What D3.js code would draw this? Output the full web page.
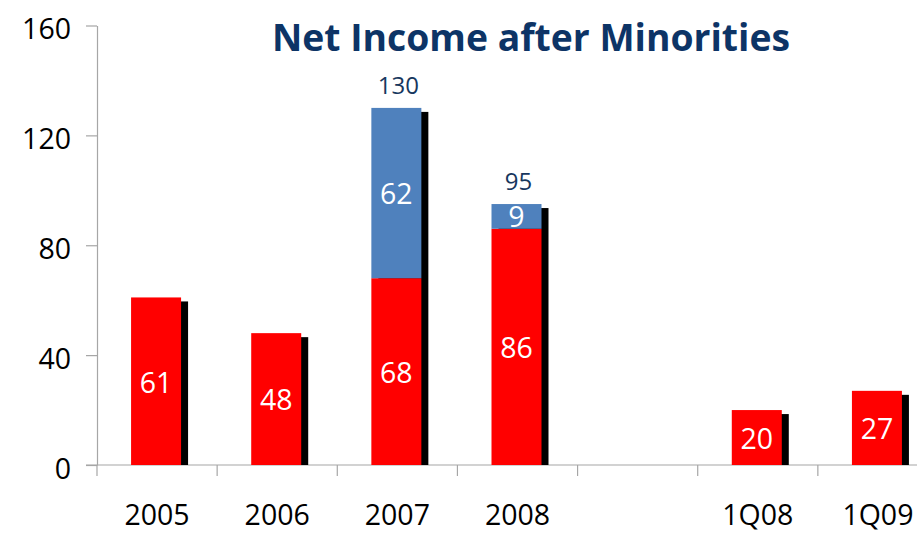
<!DOCTYPE html>
<html>
<head>
<meta charset="utf-8">
<script src="https://cdn.jsdelivr.net/npm/d3@7"></script>
<style>
    body { margin: 0; background: #fff; }
    #chart-area { width: 917px; height: 534px; overflow: hidden; }
    text { font-family: "Open Sans", sans-serif; }
</style>
</head>
<body>
<div id="chart-area"></div>
<script>

// chart data
let categories = ["2005", "2006", "2007", "2008", "", "1Q08", "1Q09"];
let baseValues = [61, 48, 68, 86, null, 20, 27];
let extraValues = [0, 0, 62, 9, null, 0, 0];
let yTicks = [0, 40, 80, 120, 160];
let chartTitle = "Net Income after Minorities";


class StackedBars {

    constructor(parentElement) {
        this.parentElement = parentElement;
        this.barWidth = 50;
        this.initVis();
    }

    /*
     * svg area, scales, axes
     */
    initVis() {
        let vis = this;

        vis.width = 917;
        vis.height = 534;

        vis.svg = d3.select("#" + vis.parentElement)
            .append("svg")
            .attr("width", vis.width)
            .attr("height", vis.height);

        // plot runs past the right edge of the picture
        vis.x = d3.scaleBand()
            .domain(categories.map((c, i) => i))
            .range([97, 938])
            .padding(0);

        vis.y = d3.scaleLinear()
            .domain([0, 160])
            .range([465, 25.5]);

        vis.wrangleData();
    }

    wrangleData() {
        let vis = this;

        vis.displayData = [];
        categories.forEach(function (c, i) {
            if (baseValues[i] == null) return;
            vis.displayData.push({
                idx: i,
                name: c,
                base: baseValues[i],
                extra: extraValues[i],
                total: baseValues[i] + extraValues[i]
            });
        });

        vis.updateVis();
    }

    updateVis() {
        let vis = this;
        let bw = vis.barWidth;
        let cx = d => vis.x(d.idx) + vis.x.bandwidth() / 2 - 1;

        // y axis
        let yAxis = d3.axisLeft(vis.y)
            .tickValues(yTicks)
            .tickSize(11)
            .tickPadding(15)
            .tickSizeOuter(0);

        let yG = vis.svg.append("g")
            .attr("class", "y-axis")
            .attr("transform", "translate(97,0)")
            .call(yAxis);
        yG.select(".domain").attr("stroke", "#a6a6a6").attr("stroke-width", 1.2);
        yG.selectAll(".tick line").attr("stroke", "#a6a6a6").attr("stroke-width", 1.2);
        yG.selectAll(".tick text")
            .attr("dy", "0.47em")
            .attr("fill", "#000")
            .style("font-size", "28.5px");

        // x axis with ticks between categories
        let xAxis = d3.axisBottom(vis.x)
            .tickSize(0)
            .tickPadding(40)
            .tickFormat(i => categories[i]);

        let xG = vis.svg.append("g")
            .attr("class", "x-axis")
            .attr("transform", "translate(0,465)")
            .call(xAxis);
        xG.select(".domain").remove();
        xG.selectAll(".tick text")
            .attr("fill", "#000")
            .attr("dy", "0.71em")
            .style("font-size", "28.5px");

        xG.append("line")
            .attr("x1", 86).attr("x2", 938)
            .attr("stroke", "#a6a6a6").attr("stroke-width", 1.2);

        xG.selectAll("line.sep")
            .data(categories.map((c, i) => i))
            .enter()
            .append("line")
            .attr("class", "sep")
            .attr("x1", i => vis.x(i))
            .attr("x2", i => vis.x(i))
            .attr("y1", 0)
            .attr("y2", 11)
            .attr("stroke", "#a6a6a6")
            .attr("stroke-width", 1.2);

        // shadows
        vis.svg.append("g").selectAll("rect")
            .data(vis.displayData)
            .enter()
            .append("rect")
            .attr("x", d => cx(d) - bw / 2 + 7)
            .attr("y", d => vis.y(d.total) + 4)
            .attr("width", bw)
            .attr("height", d => vis.y(0) - vis.y(d.total) - 4)
            .attr("fill", "#000");

        // red base bars
        vis.svg.append("g").selectAll("rect")
            .data(vis.displayData)
            .enter()
            .append("rect")
            .attr("x", d => cx(d) - bw / 2)
            .attr("y", d => vis.y(d.base))
            .attr("width", bw)
            .attr("height", d => vis.y(0) - vis.y(d.base))
            .attr("fill", "#ff0000");

        // blue stacked part
        let stacked = vis.displayData.filter(d => d.extra > 0);
        vis.svg.append("g").selectAll("rect")
            .data(stacked)
            .enter()
            .append("rect")
            .attr("x", d => cx(d) - bw / 2)
            .attr("y", d => vis.y(d.total))
            .attr("width", bw)
            .attr("height", d => vis.y(d.base) - vis.y(d.total))
            .attr("fill", "#4f81bd");

        // value labels inside segments
        vis.svg.append("g").selectAll("text")
            .data(vis.displayData)
            .enter()
            .append("text")
            .attr("x", d => cx(d))
            .attr("y", d => (vis.y(0) + vis.y(d.base)) / 2)
            .attr("dy", "0.4em")
            .attr("text-anchor", "middle")
            .attr("fill", "#fff")
            .style("font-size", "28.5px")
            .text(d => d.base);

        vis.svg.append("g").selectAll("text")
            .data(stacked)
            .enter()
            .append("text")
            .attr("x", d => cx(d))
            .attr("y", d => (vis.y(d.base) + vis.y(d.total)) / 2)
            .attr("dy", "0.38em")
            .attr("text-anchor", "middle")
            .attr("fill", "#fff")
            .style("font-size", "28.5px")
            .text(d => d.extra);

        // totals above stacked bars
        vis.svg.append("g").selectAll("text")
            .data(stacked)
            .enter()
            .append("text")
            .attr("x", d => cx(d) + 2)
            .attr("y", d => vis.y(d.total) - 14)
            .attr("text-anchor", "middle")
            .attr("fill", "#17375e")
            .style("font-size", "24px")
            .text(d => d.total);

        // title
        vis.svg.append("text")
            .attr("x", 272)
            .attr("y", 51)
            .attr("textLength", 518)
            .attr("lengthAdjust", "spacingAndGlyphs")
            .attr("fill", "#0d3466")
            .style("font-size", "38px")
            .style("font-weight", "bold")
            .text(chartTitle);
    }
}

new StackedBars("chart-area");
</script>
</body>
</html>
